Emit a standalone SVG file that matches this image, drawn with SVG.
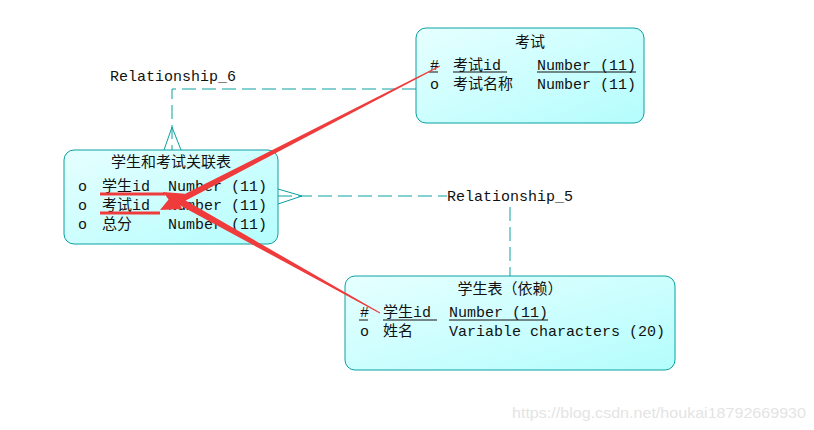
<svg xmlns="http://www.w3.org/2000/svg" width="814" height="430" viewBox="0 0 814 430">
<defs>
<linearGradient id="g" x1="0" y1="0" x2="1" y2="1">
<stop offset="0" stop-color="#e6ffff"/>
<stop offset="1" stop-color="#b4fdfd"/>
</linearGradient>
<style>
.box{fill:url(#g);stroke:#0aa0a0;stroke-width:1}
.t{font-family:"Liberation Mono","Noto Sans CJK SC",monospace;font-size:15px;fill:#111}
.c{text-anchor:middle}
.dash{fill:none;stroke:#0aa0a0;stroke-width:1;stroke-dasharray:14 6}
.crow{fill:none;stroke:#0aa0a0;stroke-width:1}
.ul{stroke:#111;stroke-width:1}
.red{fill:#ef3b3b}
.rl{stroke:#ef3b3b;stroke-width:3}
.wm{font-family:"Liberation Sans",Arial,sans-serif;font-size:15px;fill:#e4e4e4}
</style>
</defs>
<rect width="814" height="430" fill="#fff"/>
<g id="connectors">
<path class="dash" d="M416 89 H172 V150"/>
<path class="crow" d="M164 150 L172 127 L181 150"/>
<text class="t" x="110" y="81">Relationship_6</text>
<path class="dash" d="M278 196 H447"/>
<path class="dash" d="M510 207 V276"/>
<path class="crow" d="M278 189 L302 196 L278 204"/>
<text class="t" x="447" y="201">Relationship_5</text>
</g>
<g id="node-link">
<rect class="box" x="64" y="150" width="214" height="94" rx="10"/>
<text class="t c" x="171" y="167">学生和考试关联表</text>
<text class="t" x="78" y="191">o</text><text class="t" x="102" y="191">学生id</text><text class="t" x="168" y="191">Number (11)</text>
<text class="t" x="78" y="210">o</text><text class="t" x="102" y="210">考试id</text><text class="t" x="168" y="210">Number (11)</text>
<text class="t" x="78" y="229">o</text><text class="t" x="102" y="229">总分</text><text class="t" x="168" y="229">Number (11)</text>
</g>
<g id="node-exam">
<rect class="box" x="416" y="28" width="228" height="95" rx="10"/>
<text class="t c" x="530" y="47">考试</text>
<text class="t" x="430" y="70">#</text><text class="t" x="453" y="70">考试id</text><text class="t" x="537" y="70">Number (11)</text>
<line class="ul" x1="429" y1="72" x2="438" y2="72"/>
<line class="ul" x1="453" y1="72" x2="507" y2="72"/>
<line class="ul" x1="537" y1="72" x2="636" y2="72"/>
<text class="t" x="430" y="89">o</text><text class="t" x="453" y="89">考试名称</text><text class="t" x="537" y="89">Number (11)</text>
</g>
<g id="node-student">
<rect class="box" x="345" y="276" width="330" height="94" rx="10"/>
<text class="t c" x="510" y="294">学生表（依赖）</text>
<text class="t" x="360" y="317">#</text><text class="t" x="383" y="317">学生id</text><text class="t" x="449" y="317">Number (11)</text>
<line class="ul" x1="359" y1="320" x2="368" y2="320"/>
<line class="ul" x1="383" y1="320" x2="437" y2="320"/>
<line class="ul" x1="449" y1="320" x2="548" y2="320"/>
<text class="t" x="360" y="336">o</text><text class="t" x="383" y="336">姓名</text><text class="t" x="449" y="336">Variable characters (20)</text>
</g>
<g id="annotations">
<polygon class="red" points="440.2,66.4 439.8,65.6 176.4,198.2 173.9,193 160,210 182.1,209 179.6,203.8"/>
<polygon class="red" points="380.2,312.6 379.8,313.4 178.8,204.8 176.1,209.6 163,192 184.9,193.8 182.2,198.6"/>
<line class="rl" x1="100" y1="194" x2="165" y2="194"/>
<line class="rl" x1="100" y1="213" x2="160" y2="213"/>
</g>
<text class="wm" x="512" y="418" textLength="294" lengthAdjust="spacingAndGlyphs">https://blog.csdn.net/houkai18792669930</text>
</svg>
